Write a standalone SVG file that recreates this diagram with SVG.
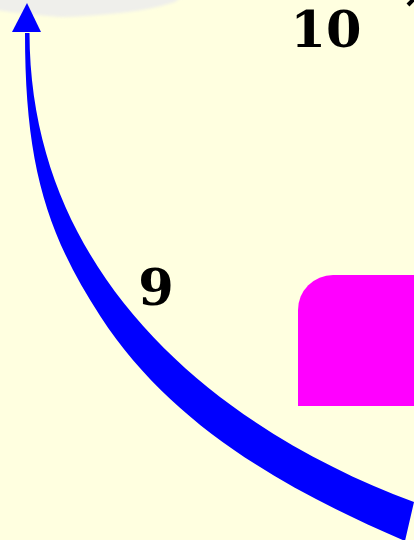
<svg xmlns="http://www.w3.org/2000/svg" width="414" height="540" viewBox="0 0 414 540">
<style>
.lbl{font-family:"DejaVu Serif","Liberation Serif",serif;font-weight:bold;font-size:51px;fill:#000;text-anchor:middle}
</style>
<defs>
<filter id="soft" x="-20%" y="-50%" width="140%" height="200%"><feGaussianBlur stdDeviation="1.5"/></filter>
</defs>
<rect width="414" height="540" fill="#ffffe0"/>
<g id="node-top">
<path d="M-10,-10 L190,-10 L175,2 Q150,10 120,13 Q80,17 60,17 Q20,14 -10,9 Z" fill="#efefeb" filter="url(#soft)"/>
</g>
<g id="node-right">
<path d="M298,406 L298,310 A35,35 0 0 1 333,275 L420,275 L420,406 Z" fill="#ff00ff"/>
</g>
<g id="connectors">
<path d="M25,33 C25,163 45.8,232.7 100.5,316.4 C171,424.5 283.6,488.9 405,541 L414,502 C226.4,432.6 30,283 29.5,33 Z" fill="#0000ff"/>
<polygon points="27,3 12,32 41,32" fill="#0000ff"/>
<path d="M415,-2 L408,5" stroke="#000" stroke-width="4"/>
</g>
<g id="labels">
<text class="lbl" x="326" y="47">10</text>
<text class="lbl" x="156" y="305">9</text>
</g>
</svg>
